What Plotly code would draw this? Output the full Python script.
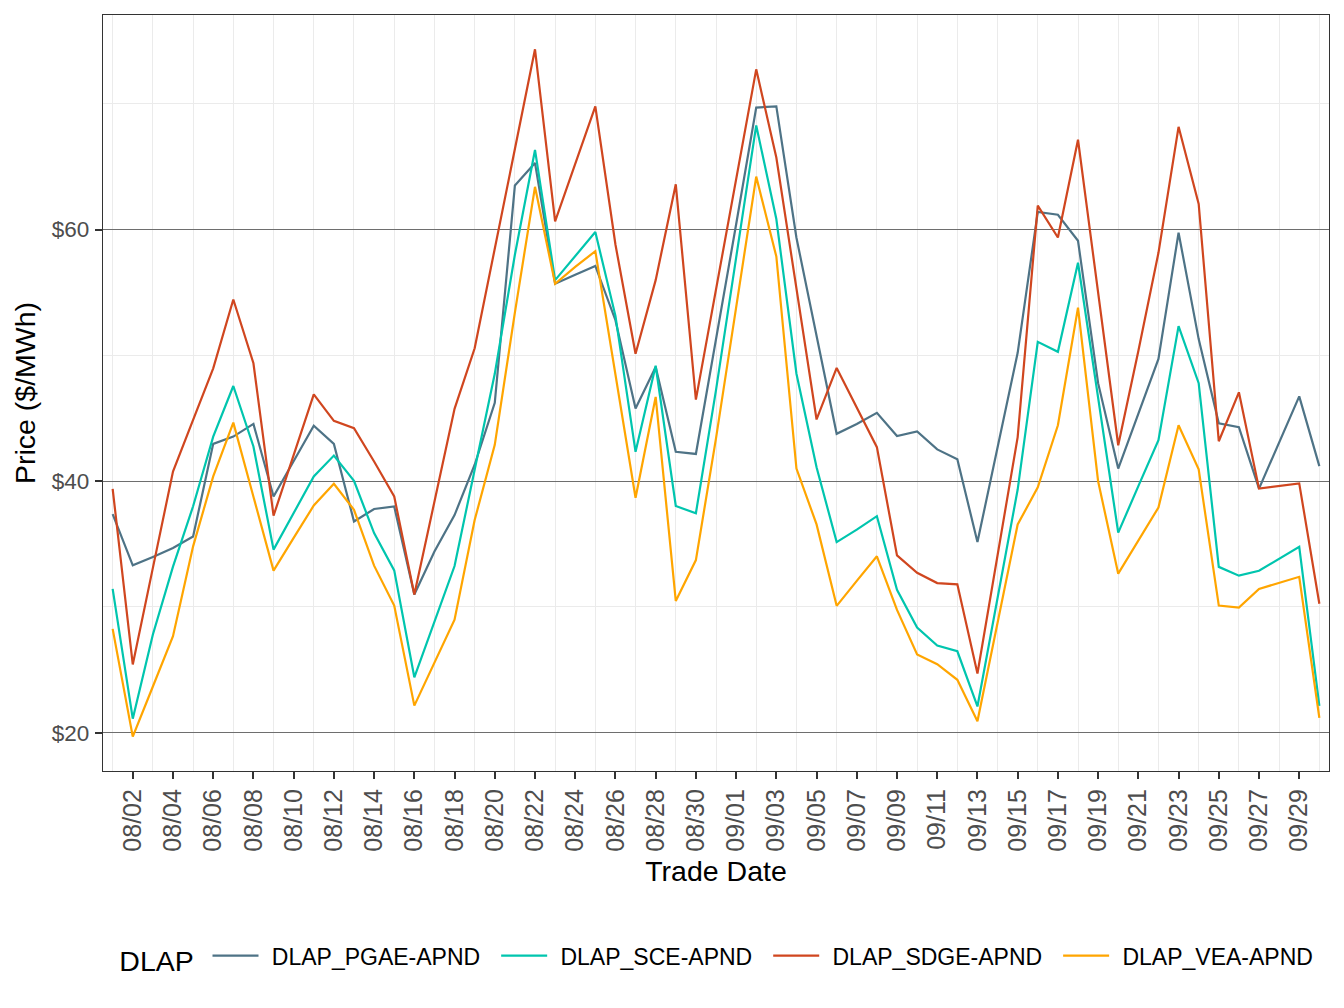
import pandas as pd
import plotly.graph_objects as go

# ── data ────────────────────────────────────────────────────────────
trade_dates = pd.date_range("2023-08-01", "2023-09-30", freq="D")

pgae = [37.38, 33.30, 33.97, 34.68, 35.60, 42.96, 43.54, 44.55, 38.78, 41.56,
        44.41, 42.96, 36.79, 37.78, 37.98, 30.98, 34.40, 37.30, 41.30, 46.23,
        63.50, 65.30, 55.69, 56.40, 57.11, 52.79, 45.77, 49.07, 42.33, 42.16,
        51.20, 60.40, 69.70, 69.80, 59.35, 51.56, 43.76, 44.54, 45.43, 43.58,
        43.94, 42.52, 41.74, 35.15, 42.70, 50.20, 61.40, 61.18, 59.11, 47.79,
        41.00, 45.37, 49.71, 59.75, 51.29, 44.60, 44.28, 39.40, 43.07, 46.74,
        41.19]
sce = [31.43, 21.11, 27.80, 33.20, 38.00, 43.54, 47.56, 42.75, 34.55, 37.46,
       40.37, 42.03, 40.02, 35.87, 32.90, 24.40, 28.87, 33.25, 40.90, 48.53,
       58.00, 66.33, 55.98, 57.93, 59.80, 53.14, 42.33, 49.17, 38.02, 37.44,
       47.23, 57.75, 68.28, 60.84, 48.54, 41.10, 35.15, 36.14, 37.21, 31.36,
       28.35, 26.93, 26.47, 22.08, 30.70, 39.33, 51.07, 50.28, 57.36, 46.67,
       35.90, 39.60, 43.26, 52.32, 47.79, 33.18, 32.48, 32.87, 33.83, 34.78,
       22.12]
sdge = [39.39, 25.42, 33.10, 40.76, 44.87, 48.97, 54.44, 49.37, 37.25, 42.09,
        46.90, 44.79, 44.21, 41.56, 38.78, 30.98, 38.46, 45.75, 50.56, 58.40,
        66.43, 74.33, 60.65, 65.19, 69.79, 58.81, 50.13, 55.98, 63.60, 46.48,
        55.20, 63.90, 72.74, 65.73, 55.31, 44.90, 49.00, 45.89, 42.70, 34.09,
        32.71, 31.89, 31.79, 24.70, 34.16, 43.50, 61.91, 59.37, 67.14, 54.99,
        42.85, 50.34, 58.15, 68.17, 62.04, 43.17, 47.06, 39.40, 39.60, 39.82,
        30.25]
vea = [28.25, 19.68, 23.67, 27.67, 34.81, 40.37, 44.65, 38.78, 32.88, 35.48,
       38.06, 39.79, 37.72, 33.28, 30.10, 22.15, 25.51, 28.98, 36.90, 42.88,
       53.40, 63.40, 55.69, 57.04, 58.28, 48.54, 38.68, 46.69, 30.47, 33.72,
       43.40, 53.79, 64.21, 57.86, 41.00, 36.56, 30.08, 32.07, 34.02, 29.76,
       26.22, 25.44, 24.20, 20.90, 28.70, 36.55, 39.50, 44.44, 53.79, 39.98,
       32.64, 35.29, 37.90, 44.44, 40.94, 30.10, 29.94, 31.43, 31.91, 32.39,
       21.17]

series_names = ["DLAP_PGAE-APND", "DLAP_SCE-APND", "DLAP_SDGE-APND", "DLAP_VEA-APND"]
series_values = [pgae, sce, sdge, vea]

y_major = [20, 40, 60]
y_major_text = ["$20", "$40", "$60"]
y_minor = [30, 50, 70]

# ── style ────────────────────────────────────────────────────────────
COLORS = ["#4E7386", "#00C5AE", "#D0461F", "#FFA500"]
FONT = "Liberation Sans, Arial, Helvetica, sans-serif"
AXIS_DARK = "#333333"
TICK_TEXT = "#4D4D4D"
GRID_LIGHT = "#EBEBEB"
GRID_DARK = "#6E6E6E"
# spacing around each legend label, like ggplot's key/label gaps
PAD_BEFORE = "\u00a0\u200a"
PAD_AFTER = "\u00a0\u2009"

fig = go.Figure()
for name, vals, col in zip(series_names, series_values, COLORS):
    fig.add_trace(go.Scatter(
        x=trade_dates, y=vals, mode="lines", name=PAD_BEFORE + name + PAD_AFTER,
        line=dict(color=col, width=2.2),
    ))

# x ticks every other day starting 08/02, light grid on the in-between days
x_ticks = list(trade_dates[1::2])
x_grid = list(trade_dates[0::2])
x_lo = trade_dates[0] - pd.Timedelta(days=0.48)
x_hi = trade_dates[-1] + pd.Timedelta(days=0.48)

# the page body has an 8px margin, so the plot area is shifted by that amount
fig.update_layout(
    width=1344, height=1008,
    paper_bgcolor="white", plot_bgcolor="white",
    font=dict(family=FONT, color="black"),
    margin=dict(l=95, r=23, t=7, b=245, autoexpand=False),
    showlegend=True,
    legend=dict(
        orientation="h", x=0.0117, xanchor="left", y=-0.2475, yanchor="middle",
        title=dict(text="DLAP\u2009", side="left", font=dict(size=28.5, color="black")),
        font=dict(size=23, color="black"),
        itemwidth=46, tracegroupgap=0,
    ),
    xaxis=dict(
        type="date", range=[x_lo, x_hi], automargin=False,
        tickmode="array", tickvals=x_ticks, tickformat="%m/%d",
        tickangle=-90, tickfont=dict(size=25, color=TICK_TEXT),
        ticks="outside", ticklen=7, tickwidth=1.6, tickcolor=AXIS_DARK,
        ticklabelstandoff=0,
        showgrid=False, zeroline=False,
        minor=dict(tickmode="array", tickvals=x_grid, showgrid=True,
                   gridcolor=GRID_LIGHT, gridwidth=1.2, ticks=""),
        showline=True, linecolor=AXIS_DARK, linewidth=1.2, mirror=True,
        title=dict(text="Trade Date", font=dict(size=28.5, color="black"), standoff=10),
    ),
    yaxis=dict(
        range=[16.95, 77.06], automargin=False,
        tickmode="array", tickvals=y_major, ticktext=y_major_text,
        tickfont=dict(size=22.5, color=TICK_TEXT),
        ticks="outside", ticklen=7, tickwidth=1.6, tickcolor=AXIS_DARK,
        ticklabelstandoff=1,
        showgrid=True, gridcolor=GRID_DARK, gridwidth=1, zeroline=False,
        minor=dict(tickmode="array", tickvals=y_minor, showgrid=True,
                   gridcolor=GRID_LIGHT, gridwidth=1.2, ticks=""),
        showline=True, linecolor=AXIS_DARK, linewidth=1.2, mirror=True,
        title=dict(text="Price ($/MWh)", font=dict(size=28.5, color="black"), standoff=7),
    ),
)

fig.write_html("out.html")
